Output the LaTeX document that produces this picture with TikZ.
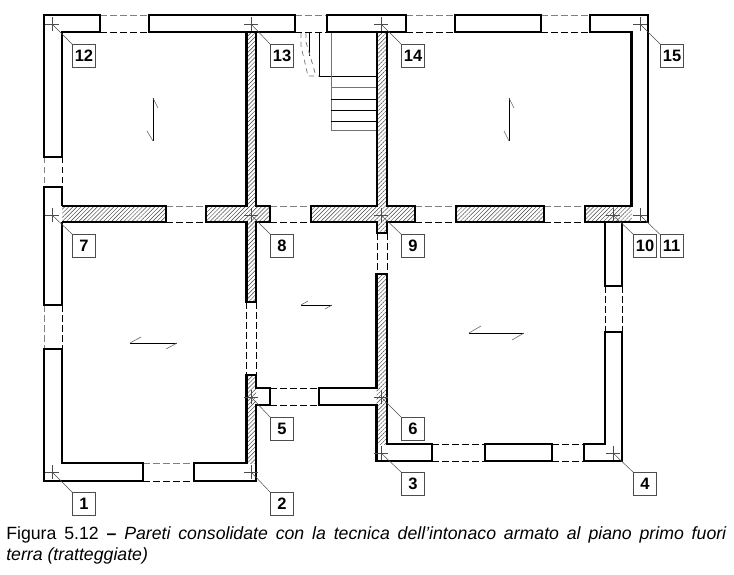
\documentclass[tikz,border=0pt]{standalone}
\usepackage{fontspec}
\setmainfont{Liberation Sans}
\usepackage{tikz}
\usetikzlibrary{patterns.meta,shapes.misc}

\begin{document}
\begin{tikzpicture}[x=1pt,y=-1pt,semithick]
\tikzstyle{wall}=[draw=black,line width=2.8pt,miter limit=10]
\tikzstyle{hatched}=[pattern={Lines[angle=45,distance=2.9pt,line width=0.45pt]},pattern color=black!75]
\tikzstyle{opening}=[draw=black,line width=0.8pt,dash pattern=on 6.5pt off 3.5pt]
\tikzstyle{faint}=[draw=black!50,line width=0.8pt,dash pattern=on 6.5pt off 3.5pt]
\tikzstyle{cpoint}=[draw=black!70,line width=0.6pt,cross out,rotate=45,minimum size=10pt,inner sep=0pt,outer sep=0pt]
\tikzstyle{tagbox}=[draw=black!70,line width=0.7pt,fill=white,minimum size=23pt,inner sep=0pt,font=\fontsize{16.5}{18}\selectfont\bfseries]
\tikzstyle{leader}=[draw=black!70,line width=0.5pt]
\tikzstyle{spanline}=[draw=black,line width=0.8pt]
\tikzstyle{barb}=[draw=black!60,line width=0.6pt]
\useasboundingbox (0,0) rectangle (734,575);

% openings
\path[faint] (100,15)--(149,15) (295,15)--(327,15) (406,15)--(455,15) (541,15)--(590,15);
\path[opening] (100,32)--(149,32) (295,32)--(327,32) (406,32)--(455,32) (541,32)--(590,32);
\path[faint] (44,157)--(44,187) (44,305)--(44,349);
\path[opening] (62,157)--(62,187) (62,305)--(62,349);
\path[faint] (166,206)--(206,206) (270,206)--(311,206) (415,206)--(456,206) (544,206)--(585,206);
\path[opening] (166,222)--(206,222) (270,222)--(311,222) (415,222)--(456,222) (544,222)--(585,222);
\path[opening] (246.5,302)--(246.5,375) (256,302)--(256,375);
\path[opening] (377,233)--(377,274) (387,233)--(387,274);
\path[opening] (605,286)--(605,332) (622,286)--(622,332);
\path[faint] (143,463)--(194,463);
\path[opening] (143,481)--(194,481) (270,388)--(319,388) (270,405)--(319,405);
\path[opening] (432,444)--(485,444) (552,444)--(584,444) (432,461)--(485,461) (552,461)--(584,461);

% stair
\draw[line width=0.8pt] (319,32)--(319,76)--(377,76);
\draw[black!55,line width=0.8pt] (331,32)--(331,130)--(377,130) (331,87)--(377,87);
\draw[line width=0.8pt] (331,99)--(377,99) (331,110)--(377,110) (331,121)--(377,121);
\draw[line width=0.8pt] (309,32)--(309,56);
\draw[black!55,line width=0.7pt,dash pattern=on 5pt off 4pt] (301,33)--(301,46)--(308,76)--(319,76);
\draw[black!55,line width=0.7pt,dash pattern=on 5pt off 4pt] (306,33)--(306,42)--(316,76);

% hatched walls
\fill[hatched] (62,206) rectangle (166,222);
\fill[hatched] (246.5,32)--(246.5,206)--(206,206)--(206,222)--(246.5,222)--(246.5,302)--(256,302)--(256,222)--(270,222)--(270,206)--(256,206)--(256,32)--cycle;
\fill[hatched] (377,32)--(377,206)--(311,206)--(311,222)--(377,222)--(377,233)--(387,233)--(387,222)--(415,222)--(415,206)--(387,206)--(387,32)--cycle;
\fill[hatched] (456,206) rectangle (544,222);
\fill[hatched] (585,206) rectangle (631.5,222);
\fill[hatched] (246.5,375) rectangle (256,463);
\fill[hatched] (376.5,274) rectangle (387,444);

% walls, top row
\draw[wall] (44,157)--(44,15)--(100,15)--(100,32)--(62,32)--(62,157)--cycle;
\draw[wall] (149,15) rectangle (295,32);
\draw[wall] (327,15) rectangle (406,32);
\draw[wall] (455,15) rectangle (541,32);
\draw[wall] (590,32)--(590,15)--(648,15)--(648,222)--(585,222)--(585,206)--(631.5,206)--(631.5,32)--cycle;
% walls, middle row
\draw[wall] (62,206)--(62,187)--(44,187)--(44,305)--(62,305)--(62,222);
\draw[wall] (62,206)--(166,206)--(166,222)--(62,222);
\draw[wall] (246.5,32)--(246.5,206)--(206,206)--(206,222)--(246.5,222)--(246.5,302)--(256,302)--(256,222)--(270,222)--(270,206)--(256,206)--(256,32);
\draw[wall] (377,32)--(377,206)--(311,206)--(311,222)--(377,222)--(377,233)--(387,233)--(387,222)--(415,222)--(415,206)--(387,206)--(387,32);
\draw[wall] (456,206) rectangle (544,222);
\draw[wall] (605,222)--(605,286)--(622,286)--(622,222);
% walls, bottom row
\draw[wall] (44,349)--(62,349)--(62,463)--(143,463)--(143,481)--(44,481)--cycle;
\draw[wall] (256,388)--(256,375)--(246.5,375)--(246.5,463)--(194,463)--(194,481)--(256,481)--(256,405)--(270,405)--(270,388)--cycle;
\draw[wall] (376.5,388)--(376.5,274)--(387,274)--(387,444)--(432,444)--(432,461)--(376.5,461)--(376.5,405)--(319,405)--(319,388)--cycle;
\draw[wall] (485,444) rectangle (552,461);
\draw[wall] (605,332)--(622,332)--(622,461)--(584,461)--(584,444)--(605,444)--cycle;

% floor span signs
\draw[spanline] (153,98)--(153,141);
\draw[barb] (153,98)--(158,108) (153,141)--(147,131);
\draw[spanline] (509,98)--(509,141);
\draw[barb] (509,98)--(514,108) (509,141)--(504,131);
\draw[spanline] (130,343)--(177,343);
\draw[barb] (130,343)--(141,337) (177,343)--(166,349);
\draw[spanline] (301,305)--(332,305);
\draw[barb] (301,305)--(308,301) (332,305)--(325,309);
\draw[spanline] (469,333)--(524,333);
\draw[barb] (469,333)--(481,326) (524,333)--(512,340);

% control points
\node[cpoint] (m1) at (52,472) {};
\node[cpoint] (m2) at (251,472) {};
\node[cpoint] (m3) at (381,453) {};
\node[cpoint] (m4) at (613,453) {};
\node[cpoint] (m5) at (251,397) {};
\node[cpoint] (m6) at (381,397) {};
\node[cpoint] (m7) at (52,215) {};
\node[cpoint] (m8) at (251,215) {};
\node[cpoint] (m9) at (381,215) {};
\node[cpoint] (m10) at (613,215) {};
\node[cpoint] (m11) at (640,215) {};
\node[cpoint] (m12) at (52,24) {};
\node[cpoint] (m13) at (251,24) {};
\node[cpoint] (m14) at (381,24) {};
\node[cpoint] (m15) at (640,24) {};

\node[tagbox] (t1) at (84,504) {1};
\node[tagbox] (t2) at (282,504) {2};
\node[tagbox] (t3) at (413,484) {3};
\node[tagbox] (t4) at (645,484) {4};
\node[tagbox] (t5) at (282,429) {5};
\node[tagbox] (t6) at (413,429) {6};
\node[tagbox] (t7) at (84,246) {7};
\node[tagbox] (t8) at (282,246) {8};
\node[tagbox] (t9) at (413,246) {9};
\node[tagbox] (t10) at (645,246) {10};
\node[tagbox] (t11) at (671.5,246) {11};
\node[tagbox] (t12) at (84,56) {12};
\node[tagbox] (t13) at (282,56) {13};
\node[tagbox] (t14) at (413,56) {14};
\node[tagbox] (t15) at (672,56) {15};

\path[leader] (m1.center)edge(t1.north west) (m2.center)edge(t2.north west)
  (m3.center)edge(t3.north west) (m4.center)edge(t4.north west)
  (m5.center)edge(t5.north west) (m6.center)edge(t6.north west)
  (m7.center)edge(t7.north west) (m8.center)edge(t8.north west)
  (m9.center)edge(t9.north west) (m10.center)edge(t10.north west)
  (m11.center)edge(t11.north west) (m12.center)edge(t12.north west)
  (m13.center)edge(t13.north west) (m14.center)edge(t14.north west)
  (m15.center)edge(t15.north west);

\node[anchor=north west,inner sep=0pt,text width=720pt,align=justify,font=\fontsize{17.7}{21.5}\selectfont] (caption) at (6,526)
  {Figura 5.12 {\bfseries --} \textit{Pareti consolidate con la tecnica dell’intonaco armato al piano primo fuori\linebreak terra (tratteggiate)}};
\end{tikzpicture}
\end{document}
